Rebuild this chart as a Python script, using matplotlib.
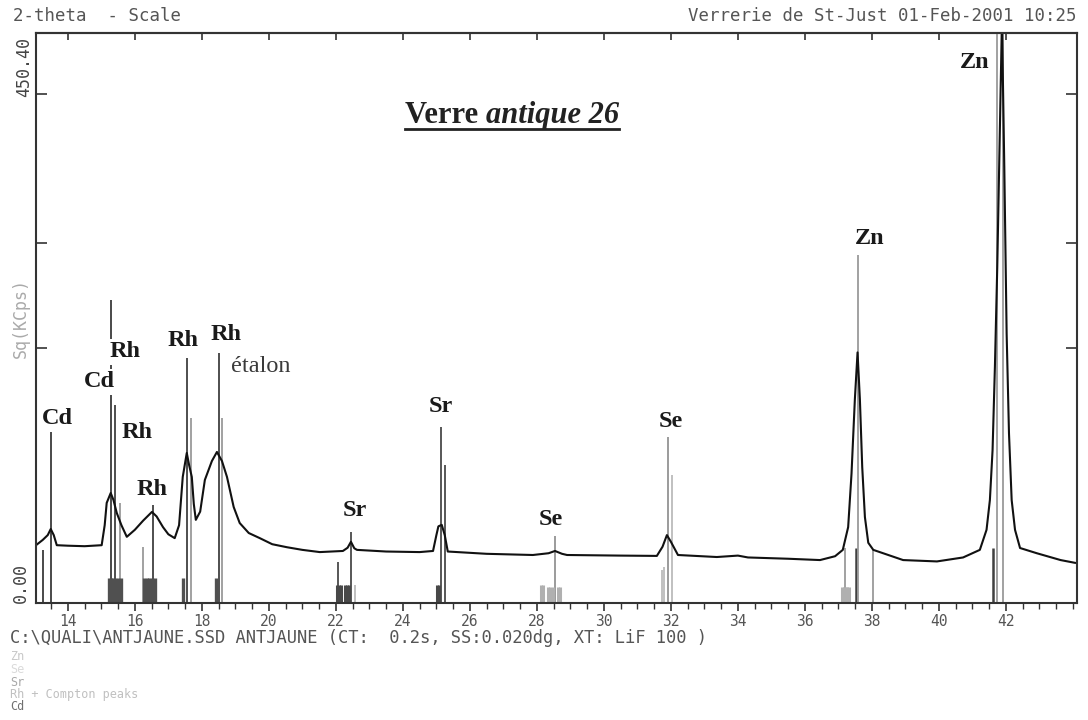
import numpy as np
import matplotlib.pyplot as plt
from matplotlib.ticker import MultipleLocator, NullLocator
from matplotlib.lines import Line2D

# spectrum, 2-theta (deg) vs intensity (KCps)
two_theta = [13.05, 13.25, 13.40, 13.49, 13.58, 13.67, 14.0, 14.5, 15.01, 15.10,
             15.16, 15.28, 15.36, 15.46, 15.60, 15.76, 16.0, 16.25, 16.51, 16.65,
             16.84, 17.0, 17.19, 17.32, 17.43, 17.55, 17.62, 17.70, 17.76, 17.82,
             17.95, 18.09, 18.30, 18.45, 18.60, 18.75, 18.95, 19.13, 19.40, 19.73,
             20.10, 20.54, 21.0, 21.52, 22.21, 22.35, 22.45, 22.55, 22.63, 23.5,
             24.5, 24.90, 25.00, 25.06, 25.16, 25.25, 25.34, 26.5, 27.88, 28.35,
             28.54, 28.75, 28.90, 30.5, 31.58, 31.75, 31.88, 32.0, 32.21, 33.37,
             34.0, 34.3, 35.5, 36.45, 36.9, 37.13, 37.29, 37.39, 37.49, 37.57,
             37.64, 37.71, 37.79, 37.89, 38.04, 38.93, 39.94, 40.72, 41.22, 41.42,
             41.52, 41.60, 41.67, 41.74, 41.88, 41.95, 42.02, 42.09, 42.17, 42.27,
             42.42, 42.92, 43.63, 44.06]
kcps = [5.8, 6.9, 8.0, 9.5, 8.0, 5.8, 5.7, 5.6, 5.8, 10.5,
        17.4, 21.0, 18.5, 14.1, 10.5, 7.6, 9.3, 11.8, 14.4, 13.0,
        10.0, 8.2, 7.3, 10.5, 27.6, 39.1, 33.0, 27.6, 17.0, 12.0,
        14.5, 26.3, 35.0, 39.6, 35.0, 27.6, 16.0, 11.1, 8.5, 7.3,
        6.0, 5.4, 4.9, 4.5, 4.7, 5.3, 6.5, 5.2, 4.9, 4.6,
        4.5, 4.7, 8.0, 10.2, 10.6, 8.0, 4.6, 4.2, 4.0, 4.3,
        4.7, 4.2, 4.0, 3.9, 3.85, 5.5, 8.0, 6.5, 4.0, 3.67,
        3.9, 3.6, 3.4, 3.2, 3.8, 4.9, 10.0, 29.0, 72.0, 109.0,
        72.0, 32.0, 12.8, 6.3, 4.9, 3.2, 3.0, 3.6, 4.9, 9.3,
        18.4, 40.6, 97.0, 196.0, 590.0, 330.0, 126.0, 50.0, 18.4, 9.3,
        5.25, 4.3, 3.2, 2.8]

# line markers per element
cd_pos = [13.25, 13.49, 15.28]
cd_height = [4.9, 50.8, 159.0]
rh_pos = [15.42, 16.53, 17.55, 18.50]
rh_height = [68.0, 16.7, 104.0, 108.5]
compton_pos = [15.55, 16.24, 17.67, 18.60]
compton_height = [17.4, 5.4, 59.4, 59.4]
rh_block_pos = [15.24, 15.30, 15.36, 15.42, 15.50, 15.58, 16.27, 16.35, 16.43, 16.51, 16.60, 17.45, 18.42]
rh_block_height = [1.1, 1.1, 1.1, 1.1, 1.1, 1.1, 1.1, 1.1, 1.1, 1.1, 1.1, 1.1, 1.1]
sr_pos = [22.06, 22.44, 25.15, 25.25]
sr_height = [2.9, 8.75, 53.8, 33.0]
sr_block_pos = [22.02, 22.08, 22.14, 22.28, 22.34, 22.40, 25.03, 25.08]
sr_block_height = [0.56, 0.56, 0.56, 0.56, 0.56, 0.56, 0.56, 0.56]
se_pos = [28.54, 31.90]
se_height = [7.8, 47.8]
se_light_pos = [31.74, 31.80, 32.02, 22.57]
se_light_height = [1.9, 2.2, 28.4, 0.56]
se_block_pos = [28.12, 28.17, 28.32, 28.40, 28.48, 28.62, 28.70]
se_block_height = [0.56, 0.56, 0.46, 0.46, 0.46, 0.46, 0.46]
zn_dark_pos = [37.52, 41.60]
zn_dark_height = [5.25, 5.25]
zn_pos = [37.57, 41.74, 41.90, 37.19, 38.02]
zn_height = [210.0, 620.0, 620.0, 5.25, 4.9]
zn_block_pos = [37.12, 37.17, 37.22, 37.27, 37.32]
zn_block_height = [0.44, 0.44, 0.44, 0.44, 0.44]

peak_labels = [("Cd", 13.70, 59.4), ("Cd", 14.93, 84.8), ("Rh", 15.70, 109.4),
               ("Rh", 16.06, 50.2), ("Rh", 16.51, 22.2), ("Rh", 17.43, 120.0),
               ("Rh", 18.72, 124.7), ("Sr", 22.57, 15.0), ("Sr", 25.13, 66.7),
               ("Se", 28.42, 12.0), ("Se", 32.0, 57.5), ("Zn", 37.94, 231.0),
               ("Zn", 41.07, 508.0)]

y_ticks = [112.6, 225.2, 450.4]

fig = plt.figure(figsize=(10.88, 7.2), dpi=100)
ax = fig.add_axes([36 / 1088, 1 - 603 / 720, (1077 - 36) / 1088, (603 - 33) / 720])

ax.set_yscale('function', functions=(lambda v: np.sqrt(np.clip(v, 0, None)), np.square))
ax.set_xlim(13.05, 44.12)
ax.set_ylim(0, 564)

ax.vlines(cd_pos, 0, cd_height, colors='#3a3a3a', lw=1.3, zorder=1)
ax.vlines(rh_pos, 0, rh_height, colors='#404040', lw=1.3, zorder=1)
ax.vlines(compton_pos, 0, compton_height, colors='#9a9a9a', lw=1.3, zorder=1)
ax.vlines(rh_block_pos, 0, rh_block_height, colors='#505050', lw=2.4, zorder=1)
ax.vlines(sr_pos, 0, sr_height, colors='#4a4a4a', lw=1.3, zorder=1)
ax.vlines(sr_block_pos, 0, sr_block_height, colors='#484848', lw=2.2, zorder=1)
ax.vlines(se_pos, 0, se_height, colors='#8a8a8a', lw=1.2, zorder=1)
ax.vlines(se_light_pos, 0, se_light_height, colors='#b5b5b5', lw=1.2, zorder=1)
ax.vlines(se_block_pos, 0, se_block_height, colors='#b0b0b0', lw=2.2, zorder=1)
ax.vlines(zn_dark_pos, 0, zn_dark_height, colors='#404040', lw=1.8, zorder=1)
ax.vlines(zn_pos, 0, zn_height, colors='#9a9a9a', lw=1.3, zorder=1)
ax.vlines(zn_block_pos, 0, zn_block_height, colors='#b0b0b0', lw=2.2, zorder=1)

ax.plot(two_theta, kcps, color='#111111', lw=1.5, zorder=2)

for name, x, y in peak_labels:
    ax.text(x, y, name, ha='center', va='center', family='Liberation Serif',
            fontweight='bold', fontsize=17.5, color='#1a1a1a', zorder=4,
            bbox=dict(facecolor='white', edgecolor='none', pad=2))
ax.text(19.75, 97.5, "étalon", ha='center', va='center', family='Liberation Serif',
        fontsize=17.5, color='#3a3a3a', zorder=4)

# axes frame and ticks
for s in ax.spines.values():
    s.set_color('#333333')
    s.set_linewidth(1.5)
ax.set_xticks(np.arange(14, 44, 2))
ax.xaxis.set_minor_locator(MultipleLocator(0.5))
ax.tick_params(axis='x', which='major', direction='out', length=6, width=1.2,
               color='#333333', labelsize=10.5, labelcolor='#555555', pad=2)
ax.tick_params(axis='x', which='minor', direction='out', length=4, width=1.0, color='#333333')
for lab in ax.get_xticklabels():
    lab.set_family('DejaVu Sans Mono')
ax.set_yticks(y_ticks)
ax.yaxis.set_minor_locator(NullLocator())
ax.tick_params(axis='y', direction='in', length=8, width=1.2, left=True, right=True,
               labelleft=False, color='#333333')

top = ax.secondary_xaxis('top')
top.set_xticks(np.arange(14, 44, 2))
top.xaxis.set_minor_locator(NullLocator())
top.tick_params(direction='in', length=5, width=1.2, labeltop=False, color='#333333')
top.spines['top'].set_color('#333333')
top.spines['top'].set_linewidth(1.5)

# rotated y-axis annotations
fig.text(24 / 1088, 1 - 67 / 720, "450.40", rotation=90, ha='center', va='center',
         family='DejaVu Sans Mono', fontsize=12, color='#444444')
fig.text(21 / 1088, 1 - 318 / 720, "Sq(KCps)", rotation=90, ha='center', va='center',
         family='DejaVu Sans Mono', fontsize=12, color='#aaaaaa')
fig.text(21 / 1088, 1 - 583 / 720, "0.00", rotation=90, ha='center', va='center',
         family='DejaVu Sans Mono', fontsize=12, color='#444444')

# header and footer
fig.text(13 / 1088, 1 - 16 / 720, "2-theta  - Scale", ha='left', va='center',
         family='DejaVu Sans Mono', fontsize=12.5, color='#555555')
fig.text(1077 / 1088, 1 - 16 / 720, "Verrerie de St-Just 01-Feb-2001 10:25", ha='right',
         va='center', family='DejaVu Sans Mono', fontsize=12.5, color='#555555')
fig.text(10 / 1088, 1 - 638 / 720, "C:\\QUALI\\ANTJAUNE.SSD ANTJAUNE (CT:  0.2s, SS:0.020dg, XT: LiF 100 )",
         ha='left', va='center', family='DejaVu Sans Mono', fontsize=12.3, color='#555555')
legend_rows = [("Zn", '#c8c8c8', 657), ("Se", '#dadada', 669.5), ("Sr", '#a8a8a8', 682),
               ("Rh + Compton peaks", '#c0c0c0', 694.5), ("Cd", '#707070', 707)]
for txt, col, ypix in legend_rows:
    fig.text(10 / 1088, 1 - ypix / 720, txt, ha='left', va='center',
             family='DejaVu Sans Mono', fontsize=8.5, color=col)

# title with mixed styles and underline
t1 = fig.text(512 / 1088, 1 - 123 / 720, "Verre ", ha='right', va='baseline',
              family='Liberation Serif', fontweight='bold', fontsize=22, color='#222222')
fig.canvas.draw()
bb1 = t1.get_window_extent()
t2 = fig.text(512 / 1088, 1 - 123 / 720, "antique 26", ha='left', va='baseline',
              family='Liberation Serif', fontweight='bold', fontstyle='italic',
              fontsize=22, color='#222222')
fig.canvas.draw()
bb2 = t2.get_window_extent()
shift = ((bb1.x0 + bb2.x1) / 2 - 512) / 1088
t1.set_x(t1.get_position()[0] - shift)
t2.set_x(t2.get_position()[0] - shift)
x0 = bb1.x0 / 1088 - shift
x1 = bb2.x1 / 1088 - shift
fig.add_artist(Line2D([x0, x1], [1 - 129 / 720, 1 - 129 / 720], color='#222222', lw=2))

plt.savefig('out.png', dpi=100)
plt.close()
